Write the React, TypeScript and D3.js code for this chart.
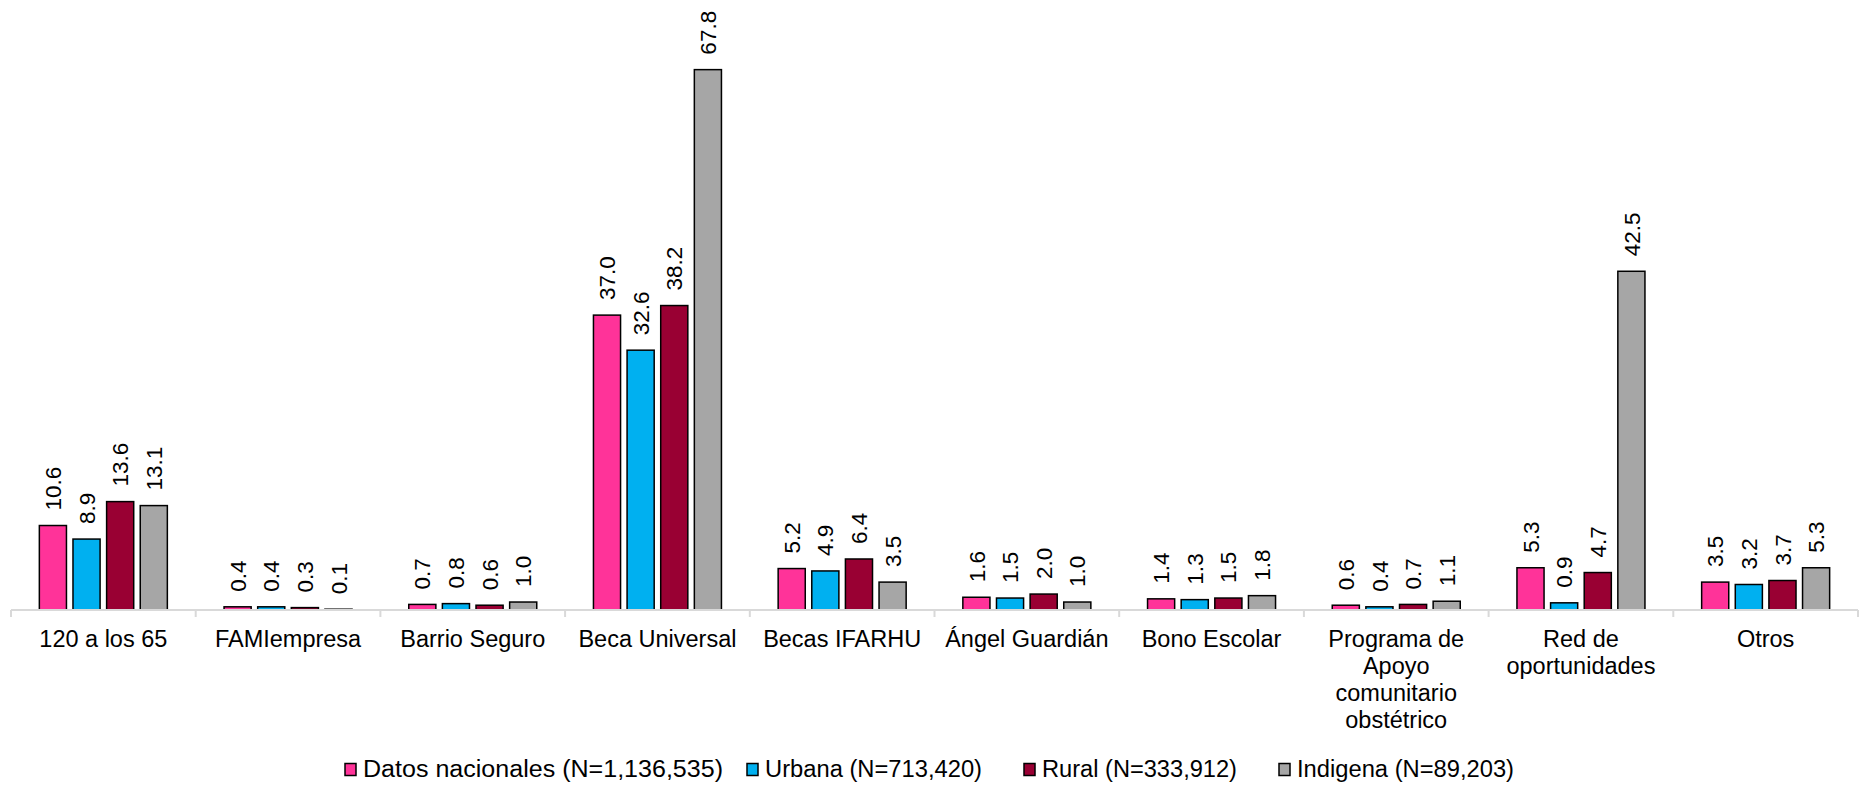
import React from "react";
import * as d3 from "d3";

const categories: string[][] = [
  ["120 a los 65"],
  ["FAMIempresa"],
  ["Barrio Seguro"],
  ["Beca Universal"],
  ["Becas IFARHU"],
  ["Ángel Guardián"],
  ["Bono Escolar"],
  ["Programa de", "Apoyo", "comunitario", "obstétrico"],
  ["Red de", "oportunidades"],
  ["Otros"],
];

const seriesNames = [
  "Datos nacionales (N=1,136,535)",
  "Urbana (N=713,420)",
  "Rural (N=333,912)",
  "Indigena (N=89,203)",
];

const seriesColors = ["#FF3399", "#00B0F0", "#990033", "#A6A6A6"];

const nacional = [10.6, 0.4, 0.7, 37.0, 5.2, 1.6, 1.4, 0.6, 5.3, 3.5];
const urbana = [8.9, 0.4, 0.8, 32.6, 4.9, 1.5, 1.3, 0.4, 0.9, 3.2];
const rural = [13.6, 0.3, 0.6, 38.2, 6.4, 2.0, 1.5, 0.7, 4.7, 3.7];
const indigena = [13.1, 0.1, 1.0, 67.8, 3.5, 1.0, 1.8, 1.1, 42.5, 5.3];

const seriesValues = [nacional, urbana, rural, indigena];

const W = 1869;
const H = 786;
const FONT = "'Liberation Sans', Arial, sans-serif";

export default function App() {
  const left = 11;
  const right = 1858;
  const baseY = 610;
  const x0 = d3
    .scaleBand<number>()
    .domain(categories.map((_, i) => i))
    .range([left, right])
    .padding(0);
  const groupW = 128;
  const x1 = d3
    .scaleBand<number>()
    .domain([0, 1, 2, 3])
    .range([0, groupW])
    .paddingInner(0.194);
  const y = d3.scaleLinear().domain([0, 80]).range([baseY, baseY - 80 * 7.97]);
  const off = (x0.bandwidth() - groupW) / 2;

  const legendX = [345, 747, 1024, 1279];
  const legendW = [360, 217, 195, 217];

  return (
    <svg
      width={W}
      height={H}
      style={{ position: "absolute", left: 0, top: 0, background: "#fff" }}
      fontFamily={FONT}
    >
      {categories.map((_, ci) =>
        seriesValues.map((vals, si) => {
          const v = vals[ci];
          const bx = (x0(ci) as number) + off + (x1(si) as number);
          const bw = x1.bandwidth();
          const top = y(v);
          return (
            <g key={`b${ci}-${si}`}>
              <rect
                x={bx}
                y={top}
                width={bw}
                height={baseY - top}
                fill={seriesColors[si]}
                stroke="#000"
                strokeWidth={1.5}
              />
              <text
                transform={`translate(${bx + bw / 2},${top - 15}) rotate(-90)`}
                dy="0.36em"
                fontSize={22.5}
                fill="#000"
              >
                {v.toFixed(1)}
              </text>
            </g>
          );
        })
      )}
      <line x1={left} x2={right} y1={baseY} y2={baseY} stroke="#D9D9D9" strokeWidth={2} />
      {d3.range(categories.length + 1).map((i) => {
        const tx = left + i * x0.step();
        return (
          <line key={`t${i}`} x1={tx} x2={tx} y1={baseY} y2={baseY + 7} stroke="#D9D9D9" strokeWidth={2} />
        );
      })}
      {categories.map((lines, ci) => {
        const cx = (x0(ci) as number) + x0.bandwidth() / 2;
        return (
          <text key={`c${ci}`} x={cx} y={647} textAnchor="middle" fontSize={23.5} fill="#000">
            {lines.map((l, li) => (
              <tspan key={li} x={cx} dy={li === 0 ? 0 : 27}>
                {l}
              </tspan>
            ))}
          </text>
        );
      })}
      {seriesNames.map((n, i) => (
        <g key={`l${i}`}>
          <rect
            x={legendX[i]}
            y={763.5}
            width={11}
            height={12}
            fill={seriesColors[i]}
            stroke="#000"
            strokeWidth={1.5}
          />
          <text
            x={legendX[i] + 18}
            y={777}
            fontSize={23}
            fill="#000"
            textLength={legendW[i]}
            lengthAdjust="spacingAndGlyphs"
          >
            {n}
          </text>
        </g>
      ))}
    </svg>
  );
}
